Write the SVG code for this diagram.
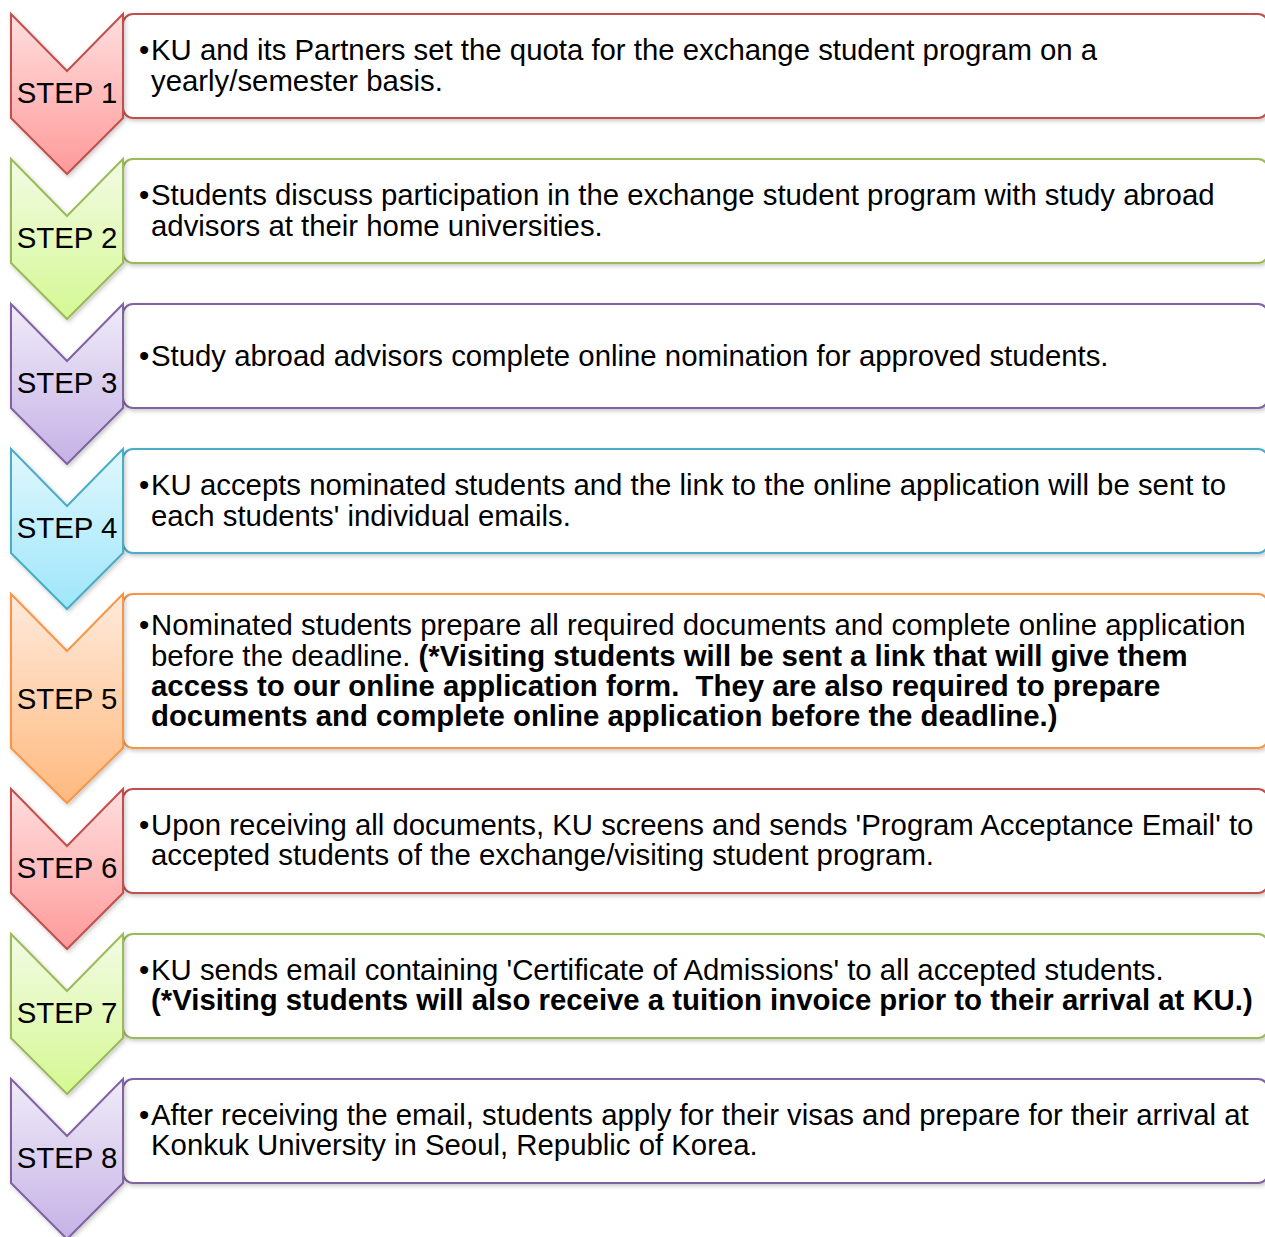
<svg xmlns="http://www.w3.org/2000/svg" width="1265" height="1237" viewBox="0 0 1265 1237">
<defs>
<style>
.t{font-family:"Liberation Sans",Arial,sans-serif;font-size:29.35px;fill:#000}
.s{font-family:"Liberation Sans",Arial,sans-serif;font-size:29.4px;fill:#000;text-anchor:middle}
.b{font-weight:bold}
.box{fill:#fff;stroke-width:2}
.chev{stroke-width:2}
.red{stroke:#C0504D}.grn{stroke:#9BBB59}.pur{stroke:#8064A2}.blu{stroke:#4BACC6}.org{stroke:#F79646}
</style>
<linearGradient id="gRed" x1="0" y1="0" x2="0" y2="1"><stop offset="0" stop-color="#FFDEDE"/><stop offset="1" stop-color="#FF9A9A"/></linearGradient>
<linearGradient id="gGrn" x1="0" y1="0" x2="0" y2="1"><stop offset="0" stop-color="#F2FBE4"/><stop offset="1" stop-color="#D5F893"/></linearGradient>
<linearGradient id="gPur" x1="0" y1="0" x2="0" y2="1"><stop offset="0" stop-color="#F0EBF8"/><stop offset="1" stop-color="#C5B2E6"/></linearGradient>
<linearGradient id="gBlu" x1="0" y1="0" x2="0" y2="1"><stop offset="0" stop-color="#E0F7FD"/><stop offset="1" stop-color="#9EE6FA"/></linearGradient>
<linearGradient id="gOrg" x1="0" y1="0" x2="0" y2="1"><stop offset="0" stop-color="#FFEADC"/><stop offset="1" stop-color="#FFB97E"/></linearGradient>
<filter id="sh" x="-20%" y="-20%" width="140%" height="140%"><feDropShadow dx="1.5" dy="2" stdDeviation="2" flood-color="#000" flood-opacity="0.22"/></filter>
</defs>

<g id="connectors"></g>

<g id="step1">
<rect class="box red" x="123" y="14" width="1145" height="104" rx="10" filter="url(#sh)"/>
<polygon class="chev red" fill="url(#gRed)" points="11,14 67,71 123,14 123,118 67,174 11,118" filter="url(#sh)"/>
<text class="s" x="67" y="103">STEP 1</text>
<text class="t" x="139" y="60">•</text>
<text class="t" x="151" y="60">KU and its Partners set the quota for the exchange student program on a</text>
<text class="t" x="151" y="91">yearly/semester basis.</text>
</g>

<g id="step2">
<rect class="box grn" x="123" y="159" width="1145" height="104" rx="10" filter="url(#sh)"/>
<polygon class="chev grn" fill="url(#gGrn)" points="11,159 67,216 123,159 123,263 67,319 11,263" filter="url(#sh)"/>
<text class="s" x="67" y="248">STEP 2</text>
<text class="t" x="139" y="205">•</text>
<text class="t" x="151" y="205">Students discuss participation in the exchange student program with study abroad</text>
<text class="t" x="151" y="236">advisors at their home universities.</text>
</g>

<g id="step3">
<rect class="box pur" x="123" y="304" width="1145" height="104" rx="10" filter="url(#sh)"/>
<polygon class="chev pur" fill="url(#gPur)" points="11,304 67,361 123,304 123,408 67,464 11,408" filter="url(#sh)"/>
<text class="s" x="67" y="393">STEP 3</text>
<text class="t" x="139" y="366">•</text>
<text class="t" x="151" y="366">Study abroad advisors complete online nomination for approved students.</text>
</g>

<g id="step4">
<rect class="box blu" x="123" y="449" width="1145" height="104" rx="10" filter="url(#sh)"/>
<polygon class="chev blu" fill="url(#gBlu)" points="11,449 67,506 123,449 123,553 67,609 11,553" filter="url(#sh)"/>
<text class="s" x="67" y="538">STEP 4</text>
<text class="t" x="139" y="495">•</text>
<text class="t" x="151" y="495">KU accepts nominated students and the link to the online application will be sent to</text>
<text class="t" x="151" y="526">each students' individual emails.</text>
</g>

<g id="step5">
<rect class="box org" x="123" y="594" width="1145" height="154" rx="10" filter="url(#sh)"/>
<polygon class="chev org" fill="url(#gOrg)" points="11,594 67,651 123,594 123,748 67,803 11,748" filter="url(#sh)"/>
<text class="s" x="67" y="709">STEP 5</text>
<text class="t" x="139" y="635">•</text>
<text class="t" x="151" y="635">Nominated students prepare all required documents and complete online application</text>
<text class="t" x="151" y="666">before the deadline. <tspan class="b">(*Visiting students will be sent a link that will give them</tspan></text>
<text class="t b" x="151" y="696">access to our online application form.&#160; They are also required to prepare</text>
<text class="t b" x="151" y="726">documents and complete online application before the deadline.)</text>
</g>

<g id="step6">
<rect class="box red" x="123" y="789" width="1145" height="104" rx="10" filter="url(#sh)"/>
<polygon class="chev red" fill="url(#gRed)" points="11,789 67,846 123,789 123,893 67,949 11,893" filter="url(#sh)"/>
<text class="s" x="67" y="878">STEP 6</text>
<text class="t" x="139" y="835">•</text>
<text class="t" x="151" y="835">Upon receiving all documents, KU screens and sends 'Program Acceptance Email' to</text>
<text class="t" x="151" y="865">accepted students of the exchange/visiting student program.</text>
</g>

<g id="step7">
<rect class="box grn" x="123" y="934" width="1145" height="104" rx="10" filter="url(#sh)"/>
<polygon class="chev grn" fill="url(#gGrn)" points="11,934 67,991 123,934 123,1038 67,1094 11,1038" filter="url(#sh)"/>
<text class="s" x="67" y="1023">STEP 7</text>
<text class="t" x="139" y="980">•</text>
<text class="t" x="151" y="980">KU sends email containing 'Certificate of Admissions' to all accepted students.</text>
<text class="t b" x="151" y="1010">(*Visiting students will also receive a tuition invoice prior to their arrival at KU.)</text>
</g>

<g id="step8">
<rect class="box pur" x="123" y="1079" width="1145" height="104" rx="10" filter="url(#sh)"/>
<polygon class="chev pur" fill="url(#gPur)" points="11,1079 67,1136 123,1079 123,1183 67,1239 11,1183" filter="url(#sh)"/>
<text class="s" x="67" y="1168">STEP 8</text>
<text class="t" x="139" y="1125">•</text>
<text class="t" x="151" y="1125">After receiving the email, students apply for their visas and prepare for their arrival at</text>
<text class="t" x="151" y="1155">Konkuk University in Seoul, Republic of Korea.</text>
</g>
</svg>
